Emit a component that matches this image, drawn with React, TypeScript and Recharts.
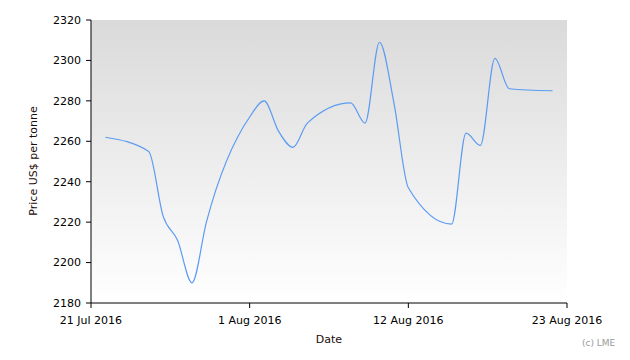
import { CartesianGrid, Label, Line, LineChart, XAxis, YAxis } from "recharts";

const dates = [
  "2016-07-22", "2016-07-25", "2016-07-26", "2016-07-27", "2016-07-28", "2016-07-29",
  "2016-08-01", "2016-08-02", "2016-08-03", "2016-08-04", "2016-08-05",
  "2016-08-08", "2016-08-09", "2016-08-10", "2016-08-11", "2016-08-12",
  "2016-08-15", "2016-08-16", "2016-08-17", "2016-08-18", "2016-08-19",
  "2016-08-22"
];

const prices = [
  2262, 2255, 2223, 2211, 2190, 2220,
  2272, 2280, 2265, 2257, 2269,
  2279, 2269, 2309, 2279, 2237,
  2219, 2264, 2258, 2301, 2286,
  2285
];

const xTicks = [0, 11, 22, 33];
const xTickLabels = ["21 Jul 2016", "1 Aug 2016", "12 Aug 2016", "23 Aug 2016"];
const yTicks = [2180, 2200, 2220, 2240, 2260, 2280, 2300, 2320];

const origin = Date.UTC(2016, 6, 21);
const dayOf = (s: string) => {
  const [y, m, d] = s.split("-").map(Number);
  return Math.round((Date.UTC(y, m - 1, d) - origin) / 86400000);
};

const data = dates.map((d, i) => ({ t: dayOf(d), price: prices[i] }));

const font = "'DejaVu Sans', Verdana, sans-serif";
const tick = { fill: "#000", fontSize: 11, fontFamily: font };

export default function App() {
  return (
    <div style={{ position: "relative", width: 630, height: 360, background: "#fff" }}>
      <style>{`body{margin:0}`}</style>
      <LineChart width={630} height={360} data={data} margin={{ top: 20, right: 63, bottom: 0, left: 0 }}>
        <defs>
          <linearGradient id="plotBg" x1="0" y1="0" x2="0" y2="1">
            <stop offset="0%" stopColor="#dadada" />
            <stop offset="100%" stopColor="#ffffff" />
          </linearGradient>
        </defs>
        <CartesianGrid horizontal={false} vertical={false} fill="url(#plotBg)" fillOpacity={1} stroke="none" />
        <XAxis
          dataKey="t"
          type="number"
          domain={[0, 33]}
          ticks={xTicks}
          tickFormatter={(v: number) => xTickLabels[xTicks.indexOf(v)]}
          height={57}
          tickSize={5}
          tickMargin={8}
          tick={tick}
          axisLine={{ stroke: "#000" }}
          tickLine={{ stroke: "#000" }}
          interval={0}
        >
          <Label
            content={() => (
              <text x={329} y={343} textAnchor="middle" fontSize={11} fontFamily={font} fill="#1a0a0a">
                Date
              </text>
            )}
          />
        </XAxis>
        <YAxis
          domain={[2180, 2320]}
          ticks={yTicks}
          width={91}
          tickSize={5}
          tickMargin={5}
          tick={tick}
          axisLine={{ stroke: "#000" }}
          tickLine={{ stroke: "#000" }}
          interval={0}
        >
          <Label
            content={() => (
              <text
                x={37}
                y={161}
                transform="rotate(-90 37 161)"
                textAnchor="middle"
                fontSize={11}
                fontFamily={font}
                fill="#1a0a0a"
              >
                Price US$ per tonne
              </text>
            )}
          />
        </YAxis>
        <Line
          type="monotone"
          dataKey="price"
          stroke="#5b9bf2"
          strokeWidth={1.2}
          dot={false}
          activeDot={false}
          isAnimationActive={false}
        />
      </LineChart>
      <span
        style={{
          position: "absolute",
          left: 582,
          top: 338,
          fontSize: 9,
          fontFamily: font,
          color: "#9a9a9a"
        }}
      >
        (c) LME
      </span>
    </div>
  );
}
